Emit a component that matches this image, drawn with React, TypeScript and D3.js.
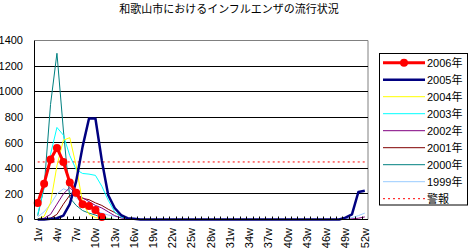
import React from "react";
import * as d3 from "d3";

const title = "和歌山市におけるインフルエンザの流行状況";
const weeks = [
  "1w","2w","3w","4w","5w","6w","7w","8w","9w","10w","11w","12w","13w",
  "14w","15w","16w","17w","18w","19w","20w","21w","22w","23w","24w","25w","26w",
  "27w","28w","29w","30w","31w","32w","33w","34w","35w","36w","37w","38w","39w",
  "40w","41w","42w","43w","44w","45w","46w","47w","48w","49w","50w","51w","52w",
];
const weekTicks = ["1w","4w","7w","10w","13w","16w","19w","22w","25w","28w","31w","34w","37w","40w","43w","46w","49w","52w"];
const yTicks = [0, 200, 400, 600, 800, 1000, 1200, 1400];

const s2006 = [130, 280, 470, 560, 450, 290, 210, 120, 105, 75, 20];
const s2005 = [0,0,5,10,30,120,300,570,790,790,460,190,90,35,10,5,0,0,0,0,0,0,0,0,0,0,0,0,0,0,0,0,0,0,0,0,0,0,0,0,0,0,0,0,0,0,0,0,15,40,215,225];
const s2004 = [5,25,130,420,620,640,420,130,40,15,5,3,0,0,0,0,0,0,0,0,0,0,0,0,0,0,0,0,0,0,0,0,0,0,0,0,0,0,0,0,0,0,0,0,0,0,0,0,0,0,0,0];
const s2003 = [40,250,510,720,660,500,390,360,355,345,260,150,60,20,8,3,0,0,0,0,0,0,0,0,0,0,0,0,0,0,0,0,0,0,0,0,0,0,0,0,0,0,0,0,0,0,0,0,0,0,0,0];
const s2002 = [0,10,40,120,200,250,200,170,140,110,90,60,30,12,5,0,0,0,0,0,0,0,0,0,0,0,0,0,0,0,0,0,0,0,0,0,0,0,0,0,0,0,0,0,0,0,0,0,0,5,10,20];
const s2001 = [0,5,10,40,120,190,185,165,155,130,110,80,55,25,10,5,0,0,0,0,0,0,0,0,0,0,0,0,0,0,0,0,0,0,0,0,0,0,0,0,0,0,0,0,0,0,0,0,0,0,0,0];
const s2000 = [30,250,900,1300,700,170,110,70,50,35,15,8,0,0,0,0,0,0,0,0,0,0,0,0,0,0,0,0,0,0,0,0,0,0,0,0,0,0,0,0,0,0,0,0,0,0,0,0,0,0,0,0];
const s1999 = [20,60,120,200,240,220,170,130,100,70,50,35,25,15,10,5,0,0,0,0,0,0,0,0,0,0,0,0,0,0,0,0,0,0,0,0,0,0,0,0,0,0,0,0,0,0,0,0,5,15,30,50];
const warning = [450,450,450,450,450,450,450,450,450,450,450,450,450,450,450,450,450,450,450,450,450,450,450,450,450,450,450,450,450,450,450,450,450,450,450,450,450,450,450,450,450,450,450,450,450,450,450,450,450,450,450,450];

const seriesNames = ["2006年","2005年","2004年","2003年","2002年","2001年","2000年","1999年","警報"];
const seriesData = [s2006, s2005, s2004, s2003, s2002, s2001, s2000, s1999, warning];
const seriesColors = ["#FF0000","#000080","#FFFF00","#00FFFF","#800080","#800000","#008080","#99CCFF","#FF0000"];
const seriesWidths = [3, 2.5, 1, 1, 1, 1, 1, 1, 1];

const W = 468, H = 250;
const L = 34.5, R = 368, T = 40.5, B = 219.5;
const FONT = "'Liberation Sans', Arial, 'Noto Sans CJK JP', sans-serif";

export default function App() {
  const x = d3.scalePoint<string>().domain(weeks).range([L, R]).padding(0.5);
  const y = d3.scaleLinear().domain([0, 1400]).range([B, T]);
  const step = x.step();

  const line = d3
    .line<number | null>()
    .defined((d) => d !== null && d !== undefined)
    .x((_, i) => x(weeks[i]) as number)
    .y((d) => y(d as number));

  const drawOrder = [8, 7, 6, 5, 4, 3, 2, 1, 0];
  const legendY0 = 62.7;
  const legendStep = 17;

  return (
    <svg width={W} height={H} style={{ position: "fixed", left: 0, top: 0, background: "#fff" }} fontFamily={FONT}>
      <rect x={0} y={0} width={W} height={H} fill="#fff" />
      <text x={229} y={12.5} textAnchor="middle" fontSize={11} fontFamily="'Noto Sans CJK JP', sans-serif" fill="#000">
        {title}
      </text>
      {/* plot border */}
      <line x1={L} x2={R} y1={T} y2={T} stroke="#808080" strokeWidth={1} />
      <line x1={R} x2={R} y1={T} y2={B} stroke="#808080" strokeWidth={1} />
      {/* gridlines */}
      {yTicks.filter((v) => v > 0 && v < 1400).map((v) => {
        const yy = Math.round(y(v) - 0.5) + 0.5;
        return <line key={v} x1={L} x2={R} y1={yy} y2={yy} stroke="#000" strokeWidth={1} />;
      })}
      {/* y labels */}
      {yTicks.map((v) => (
        <text key={v} x={23} y={y(v)} dy="0.35em" textAnchor="end" fontSize={11} fill="#000">
          {v}
        </text>
      ))}
      {/* series */}
      {drawOrder.map((si) => (
        <path
          key={si}
          d={line(seriesData[si]) || ""}
          fill="none"
          stroke={seriesColors[si]}
          strokeWidth={seriesWidths[si]}
          strokeDasharray={si === 8 ? "2,3" : undefined}
          strokeLinejoin="round"
        />
      ))}
      {s2006.map((v, i) => (
        <circle key={i} cx={x(weeks[i]) as number} cy={y(v)} r={4} fill="#FF0000" />
      ))}
      {/* axes */}
      <line x1={L} x2={L} y1={T} y2={B} stroke="#000" strokeWidth={1} />
      <line x1={L} x2={R} y1={B} y2={B} stroke="#000" strokeWidth={1} />
      {weeks.map((w, i) => {
        const xx = Math.round(L + step * (i + 1)) + 0.5;
        return i < weeks.length - 1 ? (
          <line key={w} x1={xx} x2={xx} y1={B} y2={B - 3} stroke="#000" strokeWidth={1} />
        ) : null;
      })}
      {weekTicks.map((w) => {
        const xx = x(w) as number;
        return (
          <text
            key={w}
            transform={`translate(${xx},228) rotate(-90)`}
            dy="0.35em"
            textAnchor="end"
            fontSize={11}
            fill="#000"
          >
            {w}
          </text>
        );
      })}
      {/* legend */}
      <rect x={379.5} y={53.5} width={88} height={151.5} fill="#fff" stroke="#000" strokeWidth={1} />
      {seriesNames.map((name, i) => {
        const yy = legendY0 + legendStep * i;
        return (
          <g key={name}>
            <line
              x1={383}
              x2={425}
              y1={yy}
              y2={yy}
              stroke={seriesColors[i]}
              strokeWidth={seriesWidths[i]}
              strokeDasharray={i === 8 ? "2,3" : undefined}
            />
            {i === 0 ? <circle cx={404} cy={yy} r={4} fill="#FF0000" /> : null}
            <text x={427} y={yy} dy="0.36em" fontSize={11} fill="#000">
              {name}
            </text>
          </g>
        );
      })}
    </svg>
  );
}
